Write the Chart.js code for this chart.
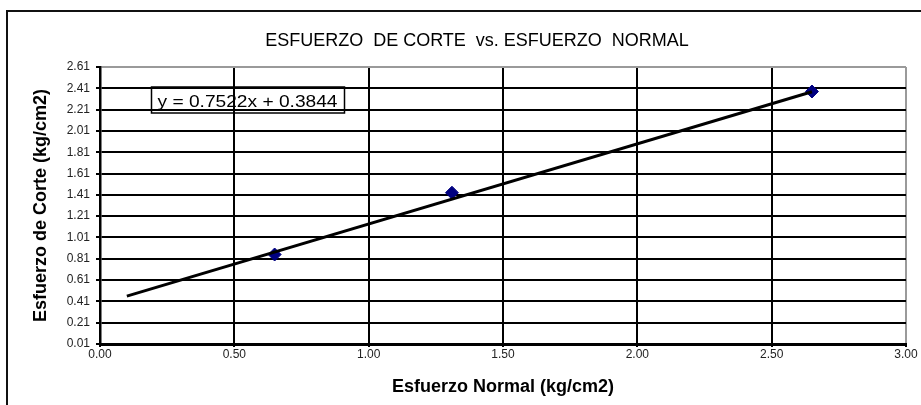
<!DOCTYPE html>
<html>
<head>
<meta charset="utf-8">
<script src="https://cdn.jsdelivr.net/npm/chart.js@4/dist/chart.umd.min.js"></script>
<style>
  html, body { margin: 0; padding: 0; background: #ffffff; }
  #wrap { width: 921px; height: 405px; position: relative; }
</style>
</head>
<body>
<div id="wrap"><canvas id="c" width="921" height="405"></canvas></div>
<script>
// Direct shear test results
const normalStress = [0.65, 1.31, 2.65];   // kg/cm2
const shearStress  = [0.85, 1.43, 2.38];   // kg/cm2

// Linear fit shown on the chart
const trendSlope = 0.7522;
const trendIntercept = 0.3844;
const trendStartX = 0.10;

const xTickValues = [0.00, 0.50, 1.00, 1.50, 2.00, 2.50, 3.00];
const yTickValues = [0.01, 0.21, 0.41, 0.61, 0.81, 1.01, 1.21, 1.41, 1.61, 1.81, 2.01, 2.21, 2.41, 2.61];

const chartTitle = 'ESFUERZO  DE CORTE  vs. ESFUERZO  NORMAL';
const xAxisTitle = 'Esfuerzo Normal (kg/cm2)';
const yAxisTitle = 'Esfuerzo de Corte (kg/cm2)';
const equationText = 'y = ' + trendSlope.toFixed(4) + 'x + ' + trendIntercept.toFixed(4);

const FONT = '"Liberation Sans", Arial, Helvetica, sans-serif';

const trendEndX = Math.max(...normalStress);
const trendPoints = [trendStartX, trendEndX].map(x => ({ x: x, y: trendSlope * x + trendIntercept }));
const dataPoints = normalStress.map((x, i) => ({ x: x, y: shearStress[i] }));

const xMax = xTickValues[xTickValues.length - 1];
const yMax = yTickValues[yTickValues.length - 1];

// Outer frame, heading and the equation label
const decorations = {
  id: 'decorations',
  afterDraw(chart) {
    const ctx = chart.ctx;
    ctx.save();
    ctx.strokeStyle = '#111';
    ctx.lineWidth = 2;
    ctx.beginPath();
    ctx.moveTo(7, 405);
    ctx.lineTo(7, 11);
    ctx.lineTo(921, 11);
    ctx.stroke();

    // heading
    ctx.font = '18px ' + FONT;
    ctx.fillStyle = '#000';
    ctx.textAlign = 'center';
    ctx.textBaseline = 'middle';
    ctx.fillText(chartTitle, 477, 41);

    // equation box
    const bx = 151.5, by = 87, bw = 193, bh = 26;
    ctx.lineWidth = 1.5;
    ctx.strokeStyle = '#000';
    ctx.strokeRect(bx, by, bw, bh);
    ctx.font = '17px ' + FONT;
    ctx.textAlign = 'left';
    ctx.textBaseline = 'alphabetic';
    const w = ctx.measureText(equationText).width;
    const target = bw - 13;
    ctx.translate(bx + 6, by + 20);
    ctx.scale(target / w, 1);
    ctx.fillText(equationText, 0, 0);
    ctx.restore();
  }
};

new Chart(document.getElementById('c'), {
  type: 'scatter',
  data: {
    datasets: [
      {
        label: 'Tendencia',
        type: 'line',
        data: trendPoints,
        borderColor: '#000',
        borderWidth: 3,
        pointRadius: 0,
        fill: false,
        tension: 0
      },
      {
        label: 'Ensayos',
        data: dataPoints,
        pointStyle: 'rectRot',
        pointRadius: 6.5,
        backgroundColor: '#000080',
        borderColor: '#000080',
        borderWidth: 1
      }
    ]
  },
  options: {
    responsive: false,
    animation: false,
    devicePixelRatio: 1,
    layout: { padding: { top: 67, right: 15, bottom: 0, left: 0 } },
    plugins: {
      legend: { display: false },
      tooltip: { enabled: false },
      title: { display: false }
    },
    scales: {
      x: {
        type: 'linear',
        position: 'bottom',
        min: 0,
        max: xMax,
        afterBuildTicks: s => { s.ticks = xTickValues.map(v => ({ value: v })); },
        afterFit: s => { s.height = 61; },
        ticks: {
          callback: v => Number(v).toFixed(2),
          color: '#222',
          font: { family: FONT, size: 12 },
          padding: 0,
          maxRotation: 0,
          autoSkip: false
        },
        grid: {
          color: c => (c.tick && c.tick.value === xMax) ? '#9a9a9a' : '#000',
          lineWidth: 2,
          tickLength: 3,
          tickColor: '#000'
        },
        border: { color: '#000', width: 3 },
        title: {
          display: true,
          text: xAxisTitle,
          color: '#000',
          font: { family: FONT, size: 18, weight: 'bold' },
          padding: { top: 0, bottom: 7 }
        }
      },
      y: {
        type: 'linear',
        min: yTickValues[0],
        max: yMax,
        afterBuildTicks: s => { s.ticks = yTickValues.map(v => ({ value: v })); },
        afterFit: s => { s.width = 100; },
        ticks: {
          callback: v => Number(v).toFixed(2),
          color: '#222',
          font: { family: FONT, size: 12 },
          padding: 6,
          autoSkip: false
        },
        grid: {
          color: c => (c.tick && Math.abs(c.tick.value - yMax) < 1e-9) ? '#9a9a9a' : '#000',
          lineWidth: 2,
          tickLength: 4,
          tickColor: '#000'
        },
        border: { color: '#000', width: 2.5 },
        title: {
          display: true,
          text: yAxisTitle,
          color: '#000',
          font: { family: FONT, size: 18, weight: 'bold' },
          padding: { top: 30, bottom: 0 }
        }
      }
    }
  },
  plugins: [decorations]
});
</script>
</body>
</html>
